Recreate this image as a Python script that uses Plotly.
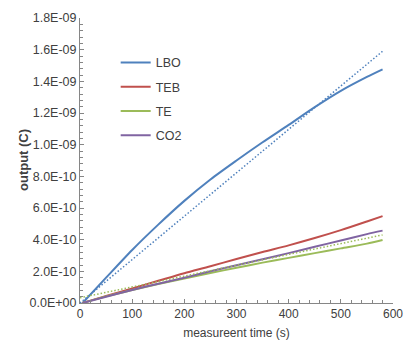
import plotly.graph_objects as go

# measurement time (s)
time_s = [5, 50, 100, 150, 200, 250, 300, 350, 400, 450, 500, 550, 580]

# output (C)
lbo = [0, 0.16e-9, 0.335e-9, 0.495e-9, 0.645e-9, 0.78e-9, 0.9e-9, 1.015e-9, 1.125e-9, 1.237e-9, 1.34e-9, 1.428e-9, 1.476e-9]
teb = [0, 0.045e-9, 0.092e-9, 0.14e-9, 0.188e-9, 0.232e-9, 0.278e-9, 0.322e-9, 0.364e-9, 0.41e-9, 0.46e-9, 0.515e-9, 0.549e-9]
te = [0, 0.042e-9, 0.082e-9, 0.12e-9, 0.155e-9, 0.19e-9, 0.222e-9, 0.255e-9, 0.285e-9, 0.315e-9, 0.345e-9, 0.375e-9, 0.398e-9]
co2 = [0, 0.04e-9, 0.082e-9, 0.122e-9, 0.16e-9, 0.2e-9, 0.238e-9, 0.276e-9, 0.315e-9, 0.355e-9, 0.395e-9, 0.435e-9, 0.457e-9]

# linear trend lines (dotted)
trend_time = [0, 580]
lbo_trend = [0, 1.59e-9]
te_trend = [0.033e-9, 0.43e-9]

# y tick labels
y_tickvals = [0, 2e-10, 4e-10, 6e-10, 8e-10, 1e-9, 1.2e-9, 1.4e-9, 1.6e-9, 1.8e-9]
y_ticktext = ["0.0E+00", "2.0E-10", "4.0E-10", "6.0E-10", "8.0E-10",
              "1.0E-09", "1.2E-09", "1.4E-09", "1.6E-09", "1.8E-09"]
x_tickvals = [0, 100, 200, 300, 400, 500, 600]

y_title = "output (C)"
x_title = "measureent time (s)"

names = ["LBO", "TEB", "TE", "CO2"]
colors = ["#4F81BD", "#C0504D", "#9BBB59", "#8064A2"]
series = [lbo, teb, te, co2]

fig = go.Figure()
for n, c, s in zip(names, colors, series):
    fig.add_trace(go.Scatter(x=time_s, y=s, mode="lines", name=n, legendgroup=n,
                             line=dict(color=c, width=2, shape="spline", smoothing=0.8)))
fig.add_trace(go.Scatter(x=trend_time, y=lbo_trend, mode="lines", showlegend=False,
                         line=dict(color="#4F81BD", width=1.5, dash="1.5px,2px")))
fig.add_trace(go.Scatter(x=trend_time, y=te_trend, mode="lines", showlegend=False,
                         line=dict(color="#9BBB59", width=1.5, dash="1.5px,2px")))

fam = "Arial, Liberation Sans, sans-serif"
fig.update_layout(
    width=404, height=340,
    margin=dict(l=80, r=11, t=18, b=37),
    paper_bgcolor="white", plot_bgcolor="white",
    font=dict(family=fam, size=12, color="#404040"),
    legend=dict(x=0.114, y=0.895, xanchor="left", yanchor="top",
                bgcolor="rgba(0,0,0,0)", tracegroupgap=5,
                font=dict(family=fam, size=12.5, color="#404040")),
    xaxis=dict(range=[0, 600], tickvals=x_tickvals, showgrid=False, zeroline=False,
               automargin=False, tickfont=dict(size=12),
               showline=True, linecolor="#868686", linewidth=1,
               ticks="inside", ticklen=4, tickcolor="#868686",
               minor=dict(dtick=20, ticks="inside", ticklen=3, tickcolor="#868686"),
               title=dict(text=x_title, standoff=8, font=dict(size=12))),
    yaxis=dict(range=[0, 1.8e-9], tickvals=y_tickvals, ticktext=y_ticktext,
               showgrid=False, zeroline=False, automargin=False, tickfont=dict(size=12.5),
               showline=True, linecolor="#868686", linewidth=1,
               ticks="inside", ticklen=4, tickcolor="#868686",
               minor=dict(dtick=4e-11, ticks="inside", ticklen=3, tickcolor="#868686")),
    annotations=[dict(text="<b>" + y_title + "</b>", xref="paper", yref="paper",
                      x=0, y=0.5, xshift=-66, textangle=-90, showarrow=False,
                      font=dict(family=fam, size=13, color="#404040"))],
)
fig.write_html("out.html", config={"displayModeBar": False},
               post_script="document.body.style.margin='0';")
